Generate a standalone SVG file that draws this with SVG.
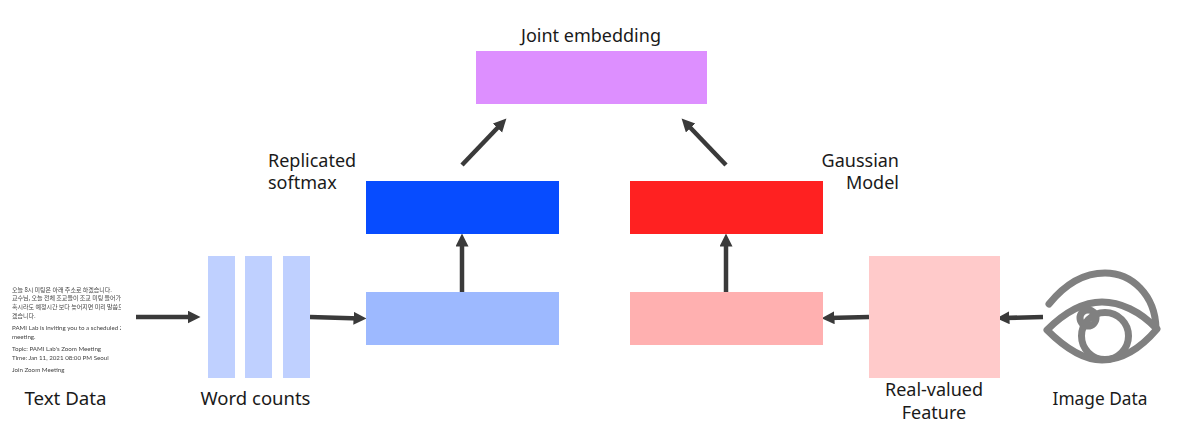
<svg xmlns="http://www.w3.org/2000/svg" width="1182" height="428" viewBox="0 0 1182 428">
<style>
.l{font-family:"Noto Sans","Open Sans",sans-serif;font-size:18px;fill:#1a1a1a}
.s{font-family:"Lato","Noto Sans CJK KR",sans-serif;font-size:6.2px;fill:#444}
.k{font-family:"Noto Sans CJK KR",sans-serif;font-size:6px;fill:#444}
.c{fill:none;stroke:#3a3a3a;stroke-width:4.500}
.e{fill:none;stroke:#808080;stroke-width:7;stroke-linecap:round;stroke-linejoin:round}
</style>
<defs>
<marker id="a" markerUnits="userSpaceOnUse" markerWidth="14" markerHeight="14" refX="6.500" refY="6.500" orient="auto"><path d="M0 0L13 6.500L0 13Z" fill="#3a3a3a"/></marker>
<clipPath id="tc"><rect x="0" y="280" width="121" height="100"/></clipPath>
<filter id="b" x="-5%" y="-5%" width="110%" height="110%"><feGaussianBlur stdDeviation="0.3"/></filter>
<filter id="b2" x="-5%" y="-5%" width="110%" height="110%"><feGaussianBlur stdDeviation="0.5"/></filter>
</defs>
<rect width="1182" height="428" fill="#fff"/>
<g id="connectors">
<path class="c" d="M136 317L194 317" marker-end="url(#a)"/>
<path class="c" d="M310 317L360 318.400" marker-end="url(#a)"/>
<path class="c" d="M462 292L462 240" marker-end="url(#a)"/>
<path class="c" d="M726 292L726 240" marker-end="url(#a)"/>
<path class="c" d="M869 317L828 318" marker-end="url(#a)"/>
<path class="c" d="M1043 317L1003 318" marker-end="url(#a)"/>
<path class="c" d="M462 165L501.900 123.300" marker-end="url(#a)"/>
<path class="c" d="M726 165L686.100 123.300" marker-end="url(#a)"/>
</g>
<g id="text-data">
<g clip-path="url(#tc)"><g filter="url(#b)">
<text class="k" x="12" y="292">오늘 8시 미팅은 아래 주소로 하겠습니다.</text>
<text class="k" x="12" y="300">교수님, 오늘 전체 조교들이 조교 미팅 들어가</text>
<text class="k" x="12" y="309">혹시라도 예정시간 보다 늦어지면 미리 말씀드</text>
<text class="k" x="12" y="318">겠습니다.</text>
<text class="s" x="12" y="330">PAMI Lab is inviting you to a scheduled Zoom</text>
<text class="s" x="12" y="339">meeting.</text>
<text class="s" x="12" y="351">Topic: PAMI Lab's Zoom Meeting</text>
<text class="s" x="12" y="360">Time: Jan 11, 2021 08:00 PM Seoul</text>
<text class="s" x="12" y="372">Join Zoom Meeting</text>
</g></g>
<text class="l" x="65.500" y="405" text-anchor="middle" style="font-size:18.700px">Text Data</text>
</g>
<g id="word-counts">
<rect x="208" y="256" width="27" height="122" fill="#bfd0ff"/>
<rect x="245" y="256" width="27" height="122" fill="#bfd0ff"/>
<rect x="283" y="256" width="27" height="122" fill="#bfd0ff"/>
<text class="l" x="255.500" y="405" text-anchor="middle" style="font-size:18.500px">Word counts</text>
</g>
<g id="text-hidden"><rect x="366" y="292" width="193" height="53" fill="#9db9ff"/></g>
<g id="replicated-softmax">
<rect x="366" y="181" width="193" height="53" fill="#074cff"/>
<text class="l" x="268" y="167">Replicated</text>
<text class="l" x="268" y="189">softmax</text>
</g>
<g id="joint-embedding">
<rect x="476" y="51" width="231" height="53" fill="#dd8fff"/>
<text class="l" x="591" y="42" text-anchor="middle">Joint embedding</text>
</g>
<g id="gaussian-model">
<rect x="630" y="181" width="193" height="53" fill="#ff2121"/>
<text class="l" x="899" y="167" text-anchor="end">Gaussian</text>
<text class="l" x="899" y="189" text-anchor="end">Model</text>
</g>
<g id="image-hidden"><rect x="630" y="292" width="193" height="53" fill="#ffb0b0"/></g>
<g id="real-valued-feature">
<rect x="869" y="256" width="131" height="122" fill="#ffcaca"/>
<text class="l" x="934" y="396" text-anchor="middle">Real-valued</text>
<text class="l" x="934" y="419" text-anchor="middle">Feature</text>
</g>
<g id="image-data">
<g filter="url(#b2)">
<path class="e" d="M1049 304C1066 283 1086 273 1105 273C1132 273 1155 295 1156 328"/>
<path class="e" d="M1047 330C1066 311 1084 302 1102 302C1120 302 1140 311 1157 329C1140 349 1122 360 1102 360C1084 360 1066 349 1047 330Z"/>
<circle class="e" cx="1105" cy="336" r="23.500"/>
<circle class="e" cx="1088" cy="318" r="8" fill="#fff" stroke-width="5.500"/>
</g>
<text class="l" x="1100" y="405" text-anchor="middle" style="font-size:17.300px">Image Data</text>
</g>
</svg>
